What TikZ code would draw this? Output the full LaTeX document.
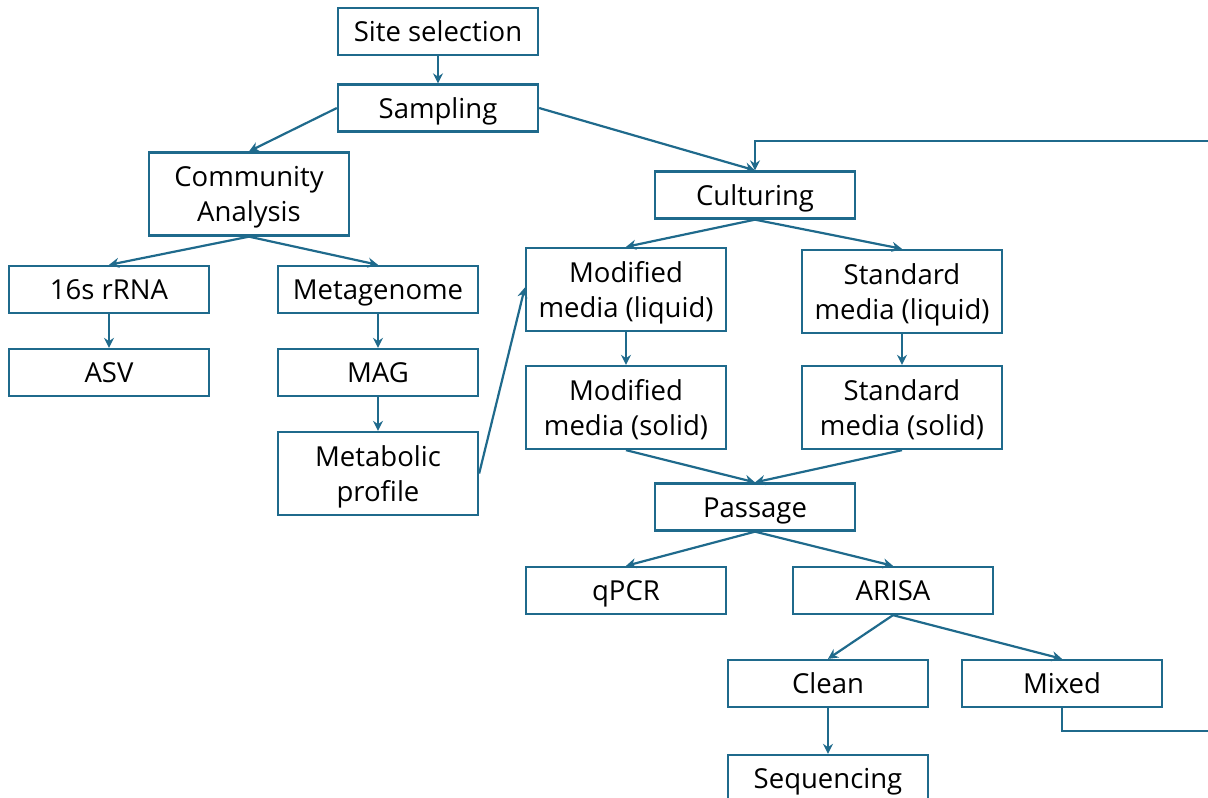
\documentclass[tikz,border=0pt]{standalone}
\usepackage{fontspec}
\setmainfont{Open Sans}
\usetikzlibrary{arrows.meta}
\definecolor{flowblue}{HTML}{1F6A8C}
\tikzset{
  box/.style={draw=flowblue, line width=2.3pt, fill=white, minimum width=200pt,
    minimum height=47pt, inner sep=2pt, align=center, text height=21pt, text depth=1pt,
    font=\fontsize{27.5}{35}\selectfont, text=black},
  tallbox/.style={box, minimum height=83pt, text height=56pt},
  link/.style={draw=flowblue, line width=2.2pt, -{Stealth[length=10pt,width=10pt]}},
}
\begin{document}
\begin{tikzpicture}[x=1pt,y=-1pt]
\useasboundingbox (0,0) rectangle (1208,798);
\clip (0,0) rectangle (1208,798);
% top of the flow
\node[box] (site) at (438,31.5) {Site selection};
\node[box] (samp) at (438,108) {Sampling};
% community branch
\node[tallbox] (comm) at (249,194) {Community\\Analysis};
\node[box] (rrna) at (109,289.5) {16s rRNA};
\node[box] (meta) at (378,289.5) {Metagenome};
\node[box] (asv) at (109,372.5) {ASV};
\node[box] (mag) at (378,372.5) {MAG};
\node[tallbox] (prof) at (378,473.5) {Metabolic\\profile};
% culturing branch
\node[box] (cult) at (755,195) {Culturing};
\node[tallbox] (modl) at (626,289.5) {Modified\\media (liquid)};
\node[tallbox] (stdl) at (902,291.5) {Standard\\media (liquid)};
\node[tallbox] (mods) at (626,407.5) {Modified\\media (solid)};
\node[tallbox] (stds) at (902,407.5) {Standard\\media (solid)};
\node[box] (pass) at (755,507) {Passage};
\node[box] (qpcr) at (626,590.5) {qPCR};
\node[box] (arisa) at (893,590.5) {ARISA};
\node[box] (clean) at (828,683.5) {Clean};
\node[box] (mixed) at (1062,683.5) {Mixed};
\node[box] (seq) at (828,778.5) {Sequencing};
% connectors
\draw[link] (site.south) -- (samp.north);
\draw[link] (samp.west) -- (comm.north);
\draw[link] (samp.east) -- (cult.north);
\draw[link] (comm.south) -- (rrna.north);
\draw[link] (comm.south) -- (meta.north);
\draw[link] (rrna.south) -- (asv.north);
\draw[link] (meta.south) -- (mag.north);
\draw[link] (mag.south) -- (prof.north);
\draw[link] (prof.east) -- ([yshift=2pt]modl.west);
\draw[link] (cult.south) -- (modl.north);
\draw[link] (cult.south) -- (stdl.north);
\draw[link] (modl.south) -- (mods.north);
\draw[link] (stdl.south) -- (stds.north);
\draw[link] (mods.south) -- (pass.north);
\draw[link] (stds.south) -- (pass.north);
\draw[link] (pass.south) -- (qpcr.north);
\draw[link] (pass.south) -- (arisa.north);
\draw[link] (arisa.south) -- (clean.north);
\draw[link] (arisa.south) -- (mixed.north);
\draw[link] (clean.south) -- (seq.north);
% loop back from mixed cultures to culturing
\coordinate (loopa) at (1220,731);
\coordinate (loopb) at (1220,141);
\draw[link] (mixed.south) |- (loopa) -- (loopb) -| (cult.north);
\end{tikzpicture}
\end{document}
